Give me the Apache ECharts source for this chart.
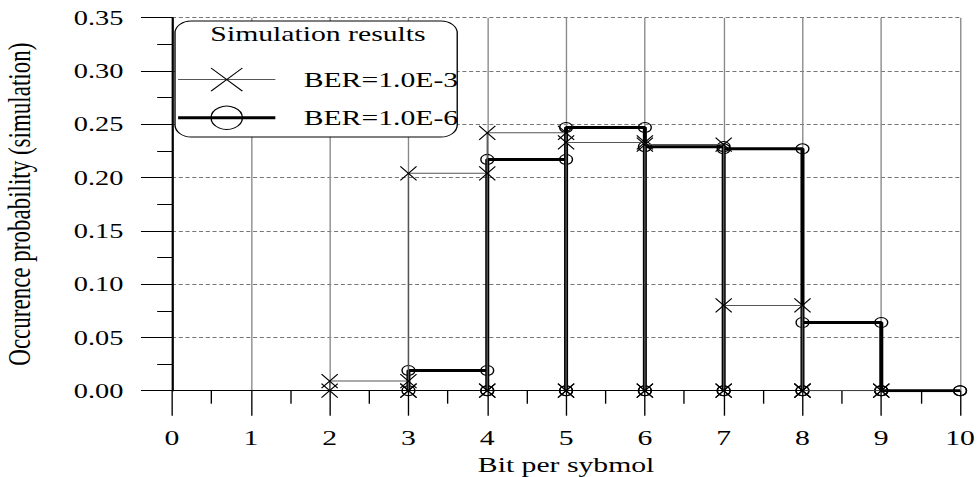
<!DOCTYPE html>
<html>
<head>
<meta charset="utf-8">
<script src="https://cdn.jsdelivr.net/npm/echarts@6/dist/echarts.min.js"></script>
<style>
html,body{margin:0;padding:0;background:#fff;overflow:hidden;width:979px;height:477px;}
#chart{width:725px;height:477px;transform:scaleX(1.35034);transform-origin:0 0;}
</style>
</head>
<body>
<div id="chart"></div>
<script>
// ---- data ----
const seriesNames = ['BER=1.0E-3', 'BER=1.0E-6'];
const binsBer3 = [2, 3, 4, 5, 6, 7, 8];
const valuesBer3 = [0.009, 0.204, 0.242, 0.233, 0.231, 0.080, 0.0];
const binsBer6 = [3, 4, 5, 6, 7, 8, 9];
const valuesBer6 = [0.019, 0.217, 0.247, 0.229, 0.227, 0.064, 0.0];
const xTicks = [0, 1, 2, 3, 4, 5, 6, 7, 8, 9, 10];
const yTicks = ['0.00', '0.05', '0.10', '0.15', '0.20', '0.25', '0.30', '0.35'];
const legendTitle = 'Simulation results';
const xName = 'Bit per sybmol';
const yName = 'Occurence probability (simulation)';

function steps(bins, vals) {
  const pts = [];
  bins.forEach((b, i) => {
    pts.push([b, 0], [b, vals[i]], [b + 1, vals[i]], [b + 1, 0]);
  });
  return pts;
}

const FONT = 'Liberation Serif';
const chart = echarts.init(document.getElementById('chart'), null, {renderer: 'svg'});
const xMark = 'path://M0,0L10,10M10,0L0,10';

chart.setOption({
  animation: false,
  backgroundColor: '#fff',
  grid: {left: 127.4, right: 14, top: 17.7, bottom: 86.3, containLabel: false, outerBoundsMode: 'none'},
  xAxis: {
    type: 'value', min: xTicks[0], max: xTicks[xTicks.length - 1], interval: 1,
    name: xName, nameLocation: 'middle', nameGap: 42,
    nameTextStyle: {fontFamily: FONT, fontSize: 22, color: '#000'},
    axisLine: {show: true, onZero: false, lineStyle: {color: '#000', width: 1}},
    axisTick: {show: true, inside: false, length: 25, lineStyle: {color: '#000', width: 1}},
    minorTick: {show: true, splitNumber: 2, length: 13, lineStyle: {color: '#000', width: 1}},
    axisLabel: {margin: 36.5, fontFamily: FONT, fontSize: 22, color: '#000'},
    splitLine: {show: true, lineStyle: {color: '#888', width: 1}}
  },
  yAxis: {
    type: 'value', min: 0, max: 0.35, interval: 0.05,
    name: yName, nameLocation: 'middle', nameGap: 101,
    nameTextStyle: {fontFamily: FONT, fontSize: 23, color: '#000'},
    axisLine: {show: true, lineStyle: {color: '#000', width: 1.5}},
    axisTick: {show: true, inside: false, length: 23, lineStyle: {color: '#000', width: 1}},
    minorTick: {show: true, splitNumber: 2, length: 11, lineStyle: {color: '#000', width: 1}},
    axisLabel: {margin: 36, fontFamily: FONT, fontSize: 21, color: '#000',
      formatter: (v) => yTicks[Math.round(v / 0.05)]},
    splitLine: {show: true, lineStyle: {color: '#777', width: 1, type: [3, 2]}}
  },
  legend: {
    left: 130.4, top: 67.5, orient: 'vertical', padding: 0,
    itemWidth: 72, itemHeight: 29, itemGap: 14, z: 6,
    textStyle: {fontFamily: FONT, fontSize: 22, color: '#000', padding: [0, 0, 0, 16]},
    data: [
      {name: seriesNames[0], itemStyle: {color: 'transparent', borderColor: '#000', borderWidth: 1}, lineStyle: {color: '#555', width: 1}},
      {name: seriesNames[1], itemStyle: {color: 'transparent', borderColor: '#000', borderWidth: 1}, lineStyle: {color: '#000', width: 3}}
    ]
  },
  graphic: [
    {type: 'rect', z: 5, shape: {x: 129.6, y: 21, width: 209, height: 116, r: 12},
     style: {fill: '#fff', stroke: '#000', lineWidth: 1}},
    {type: 'text', z: 6, x: 235.5, y: 34,
     style: {text: legendTitle, font: '22px "Liberation Serif"', fill: '#000', align: 'center', verticalAlign: 'middle'}}
  ],
  series: [
    {
      name: seriesNames[1], type: 'line', data: steps(binsBer6, valuesBer6),
      symbol: 'circle', symbolSize: [9.5, 10], showAllSymbol: true,
      itemStyle: {color: 'transparent', borderColor: '#000', borderWidth: 1},
      lineStyle: {color: '#000', width: 3}, z: 2
    },
    {
      name: seriesNames[0], type: 'line', data: steps(binsBer3, valuesBer3),
      symbol: xMark, symbolSize: [12, 14], showAllSymbol: true,
      itemStyle: {color: 'transparent', borderColor: '#000', borderWidth: 1},
      lineStyle: {color: '#555', width: 1}, z: 3
    }
  ]
});
</script>
</body>
</html>
